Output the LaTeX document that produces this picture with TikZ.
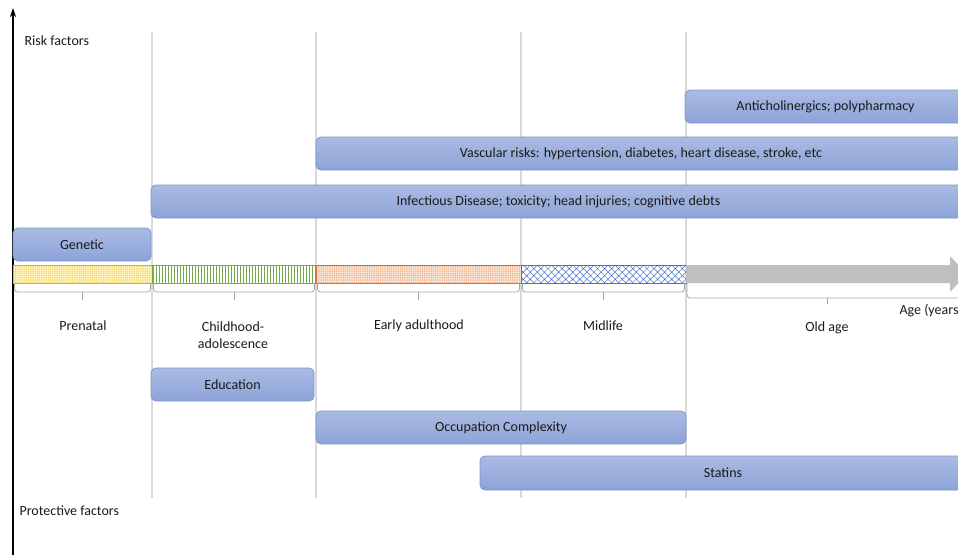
\documentclass[tikz,border=0pt]{standalone}
\usepackage{fontspec}
\setmainfont{Carlito}
\usepackage{tikz}
\usetikzlibrary{arrows.meta}
\usetikzlibrary{patterns.meta}

\definecolor{gridgrey}{HTML}{D9D9D9}
\definecolor{bracegrey}{HTML}{A6A6A6}
\definecolor{boxtop}{HTML}{AABBE3}
\definecolor{boxbot}{HTML}{8DA3D8}
\definecolor{boxline}{HTML}{7D95CD}
\definecolor{txt}{HTML}{1A1A1A}
\definecolor{goldline}{HTML}{E3AE2A}
\definecolor{golddot}{HTML}{EFC84A}
\definecolor{goldfill}{HTML}{FFF2B8}
\definecolor{greenline}{HTML}{70AD47}
\definecolor{orangeline}{HTML}{D4733A}
\definecolor{orangedot}{HTML}{EE9A68}
\definecolor{orangefill}{HTML}{FBE2D0}
\definecolor{blueline}{HTML}{4472C4}
\definecolor{arrowgrey}{HTML}{BFBFBF}

\tikzset{
  factorbox/.style={draw=boxline, line width=0.8pt, rounded corners=5pt,
    top color=boxtop, bottom color=boxbot, text=txt,
    inner sep=0pt, minimum height=33pt},
  segbox/.style={line width=0.9pt, inner sep=0pt, outer sep=0pt, minimum height=18pt},
  bracket/.style={draw=bracegrey, line width=0.8pt, rounded corners=3pt},
  gridline/.style={gridgrey, line width=1.3pt},
  stagelabel/.style={text=txt, align=center}
}

\begin{document}
\begin{tikzpicture}[x=1pt,y=-1pt, font=\fontsize{14}{17.5}\selectfont]
\useasboundingbox (0,0) rectangle (958,555);
\clip (0,0) rectangle (958,555);

% grid lines between stages
\foreach \gx in {152,316,521,686}
  \draw[gridline] (\gx,32) -- (\gx,498);

% vertical axis
\coordinate (axisbot) at (13,555);
\coordinate (axistop) at (13,8);
\draw[line width=1.3pt, -{Stealth[length=9pt,width=6pt]}] (axisbot) -- (axistop);

\node[anchor=west, text=txt] (risk) at (21,41) {Risk factors};
\node[anchor=west, text=txt] (protect) at (16,511) {Protective factors};

% timeline segments
\node[segbox, minimum width=139pt, draw=goldline,
  preaction={fill=goldfill}, pattern={Dots[distance=2.2pt,radius=0.6pt]}, pattern color=golddot]
  (pre) at (82.5,274) {};
\node[segbox, minimum width=164pt, draw=greenline, fill=white,
  pattern={Lines[angle=90,distance=3pt,line width=0.6pt]}, pattern color=greenline]
  (child) at (234,274) {};
\node[segbox, minimum width=205pt, draw=orangeline,
  preaction={fill=orangefill}, pattern={Dots[distance=2.2pt,radius=0.6pt]}, pattern color=orangedot]
  (early) at (418.5,274) {};
\node[segbox, minimum width=165pt, draw=blueline, fill=white,
  pattern={Hatch[angle=45,distance=5pt,line width=0.5pt]}, pattern color=blueline]
  (mid) at (603.5,274) {};

% old age arrow
\fill[arrowgrey] (mid.north east) -- (950,265) -- (950,256) -- (967,274)
  -- (950,292) -- (950,283) -- (mid.south east) -- cycle;

% brackets under stages
\foreach \seg in {pre,child,early,mid} {
  \draw[bracket] ([xshift=1.5pt]\seg.south west) -- ++(0,9) -| ([xshift=-1.5pt]\seg.south east);
  \draw[bracegrey, line width=0.8pt] (\seg.south) ++(0,9) -- ++(0,8);
}
\coordinate (oldend) at (968,283);
\draw[bracket] ([xshift=1pt]mid.south east) -- ++(0,15) -| (oldend);
\draw[bracegrey, line width=0.8pt] (827,298) -- (827,304);

% stage labels
\node[stagelabel] (prelbl) at (83,326) {Prenatal};
\node[stagelabel] (childlbl) at (233,335) {Childhood-\\adolescence};
\node[stagelabel] (earlylbl) at (419,326) {Early adulthood};
\node[stagelabel] (midlbl) at (603,326) {Midlife};
\node[stagelabel] (oldlbl) at (827,328) {Old age};
\node[anchor=west, text=txt] (agelbl) at (896,311) {Age (years)};

% risk factors
\node[factorbox, minimum width=138pt] (genetic) at (82,244.5) {Genetic};
\node[factorbox, minimum width=815pt] (infect) at (558.5,201.5) {Infectious Disease; toxicity; head injuries; cognitive debts};
\node[factorbox, minimum width=650pt] (vasc) at (641,153.5) {Vascular risks: hypertension, diabetes, heart disease, stroke, etc};
\node[factorbox, minimum width=281pt] (anti) at (825.5,106.5) {Anticholinergics; polypharmacy};

% protective factors
\node[factorbox, minimum width=163pt] (edu) at (232.5,384.5) {Education};
\node[factorbox, minimum width=370pt] (occup) at (501,427.5) {Occupation Complexity};
\node[factorbox, minimum width=486pt, minimum height=34pt] (statins) at (723,473) {Statins};

\end{tikzpicture}
\end{document}
